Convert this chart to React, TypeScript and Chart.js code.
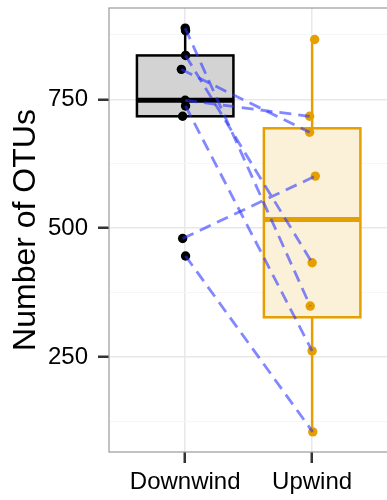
import React, { useEffect, useRef } from "react";
import { Chart, registerables } from "chart.js";

Chart.register(...registerables);

const categories = ["Downwind", "Upwind"];
const downwindValues = [888, 883, 835, 808, 748, 737, 717, 480, 446];
const downwindJitter = [0, 0.003, 0.003, -0.03, 0, 0.003, -0.02, -0.02, 0.003];
const upwindValues = [866, 717, 686, 601, 433, 349, 262, 105];
const upwindJitter = [0.02, -0.02, -0.02, 0.025, 0, -0.015, 0, 0.005];
// pairs: [downwind index, upwind index]
const pairs: [number, number][] = [
  [0, 5],
  [2, 4],
  [3, 2],
  [4, 1],
  [5, 6],
  [7, 3],
  [8, 7],
];
const yTicks = [125, 250, 375, 500, 625, 750, 875];
const yMajor = [250, 500, 750];

const colors = ["#000000", "#E69F00"];
const fills = ["#d3d3d3", "rgba(230,159,0,0.15)"];

function quantile(sorted: number[], p: number) {
  const pos = (sorted.length - 1) * p;
  const lo = Math.floor(pos);
  const hi = Math.ceil(pos);
  return sorted[lo] + (sorted[hi] - sorted[lo]) * (pos - lo);
}

function boxStats(values: number[]) {
  const s = [...values].sort((a, b) => a - b);
  const q1 = quantile(s, 0.25);
  const med = quantile(s, 0.5);
  const q3 = quantile(s, 0.75);
  const iqr = q3 - q1;
  const lo = Math.min(...s.filter((v) => v >= q1 - 1.5 * iqr));
  const hi = Math.max(...s.filter((v) => v <= q3 + 1.5 * iqr));
  return { q1, med, q3, lo, hi };
}

const boxPlugin = {
  id: "boxes",
  beforeDatasetsDraw(chart: any) {
    const { ctx, scales } = chart;
    const xs = scales.x;
    const ys = scales.y;
    [downwindValues, upwindValues].forEach((vals, i) => {
      const st = boxStats(vals);
      const cx = xs.getPixelForValue(i + 1);
      const x0 = xs.getPixelForValue(i + 1 - 0.38);
      const x1 = xs.getPixelForValue(i + 1 + 0.38);
      const yq1 = ys.getPixelForValue(st.q1);
      const yq3 = ys.getPixelForValue(st.q3);
      const ymed = ys.getPixelForValue(st.med);
      ctx.save();
      ctx.strokeStyle = colors[i];
      ctx.lineWidth = 2.5;
      ctx.beginPath();
      ctx.moveTo(cx, ys.getPixelForValue(st.hi));
      ctx.lineTo(cx, yq3);
      ctx.moveTo(cx, yq1);
      ctx.lineTo(cx, ys.getPixelForValue(st.lo));
      ctx.stroke();
      ctx.fillStyle = "#ffffff";
      ctx.fillRect(x0, yq3, x1 - x0, yq1 - yq3);
      ctx.fillStyle = fills[i];
      ctx.fillRect(x0, yq3, x1 - x0, yq1 - yq3);
      ctx.strokeRect(x0, yq3, x1 - x0, yq1 - yq3);
      ctx.lineWidth = 5;
      ctx.beginPath();
      ctx.moveTo(x0, ymed);
      ctx.lineTo(x1, ymed);
      ctx.stroke();
      ctx.restore();
    });
  },
  afterDatasetsDraw(chart: any) {
    const { ctx, chartArea } = chart;
    ctx.save();
    ctx.strokeStyle = "#9a9a9a";
    ctx.lineWidth = 1.2;
    ctx.strokeRect(chartArea.left, chartArea.top, chartArea.right - chartArea.left, chartArea.bottom - chartArea.top);
    ctx.restore();
  },
};

export default function App() {
  const ref = useRef<HTMLCanvasElement | null>(null);
  useEffect(() => {
    if (!ref.current) return;
    const downPts = downwindValues.map((v, i) => ({ x: 1 + downwindJitter[i], y: v }));
    const upPts = upwindValues.map((v, i) => ({ x: 2 + upwindJitter[i], y: v }));
    const lineSets = pairs.map(([d, u]) => ({
      type: "line" as const,
      data: [downPts[d], upPts[u]],
      borderColor: "rgba(40,50,255,0.58)",
      borderWidth: 2.8,
      borderDash: [12, 7],
      pointRadius: 0,
      fill: false,
      order: 0,
    }));
    const chart = new Chart(ref.current, {
      type: "scatter",
      data: {
        datasets: [
          ...lineSets,
          {
            data: downPts,
            backgroundColor: colors[0],
            borderColor: colors[0],
            pointRadius: 4.7,
            borderWidth: 0,
            order: 1,
          },
          {
            data: upPts,
            backgroundColor: colors[1],
            borderColor: colors[1],
            pointRadius: 4.7,
            borderWidth: 0,
            order: 1,
          },
        ] as any,
      },
      plugins: [boxPlugin],
      options: {
        animation: false,
        responsive: false,
        devicePixelRatio: 1,
        layout: { padding: { top: 8, right: 1, bottom: 0, left: 0 } },
        plugins: { legend: { display: false }, tooltip: { enabled: false } },
        scales: {
          x: {
            type: "linear",
            min: 0.4,
            max: 2.6,
            afterBuildTicks: (s: any) => {
              s.ticks = categories.map((_, i) => ({ value: i + 1 }));
            },
            afterFit: (s: any) => {
              s.height = 48;
              s.paddingLeft = 0;
              s.paddingRight = 0;
            },
            ticks: {
              callback: (v: any) => categories[Math.round(Number(v)) - 1] ?? "",
              color: "#000",
              font: { family: "Liberation Sans, Arial, sans-serif", size: 24 },
              padding: 5,
              maxRotation: 0,
              autoSkip: false,
            },
            grid: {
              color: "#e8e8e8",
              lineWidth: 1.5,
              tickColor: "#333",
              tickWidth: 2.5,
              tickLength: 11,
            },
            border: { display: false },
          },
          y: {
            type: "linear",
            min: 66,
            max: 927,
            afterBuildTicks: (s: any) => {
              s.ticks = yTicks.map((v) => ({ value: v }));
            },
            afterFit: (s: any) => {
              s.width = 109;
              s.paddingTop = 0;
              s.paddingBottom = 0;
            },
            ticks: {
              callback: (v: any) => (yMajor.includes(Number(v)) ? String(v) : ""),
              color: "#000",
              font: { family: "Liberation Sans, Arial, sans-serif", size: 24 },
              padding: 10,
              autoSkip: false,
            },
            grid: {
              color: (c: any) => (c.tick && yMajor.includes(c.tick.value) ? "#e8e8e8" : "#f6f6f6"),
              lineWidth: (c: any) => (c.tick && yMajor.includes(c.tick.value) ? 1.5 : 1),
              tickColor: (c: any) => (c.tick && yMajor.includes(c.tick.value) ? "#333" : "rgba(0,0,0,0)"),
              tickWidth: 2.5,
              tickLength: 11,
            },
            border: { display: false },
            title: {
              display: true,
              text: "Number of OTUs",
              color: "#000",
              font: { family: "Liberation Sans, Arial, sans-serif", size: 32 },
              padding: { top: 7, bottom: 0 },
            },
          },
        },
      },
    });
    return () => chart.destroy();
  }, []);
  return (
    <div style={{ position: "absolute", left: 0, top: 0, width: 387, height: 500, overflow: "hidden", background: "#fff" }}>
      <canvas ref={ref} width={393} height={500} style={{ display: "block" }} />
    </div>
  );
}
